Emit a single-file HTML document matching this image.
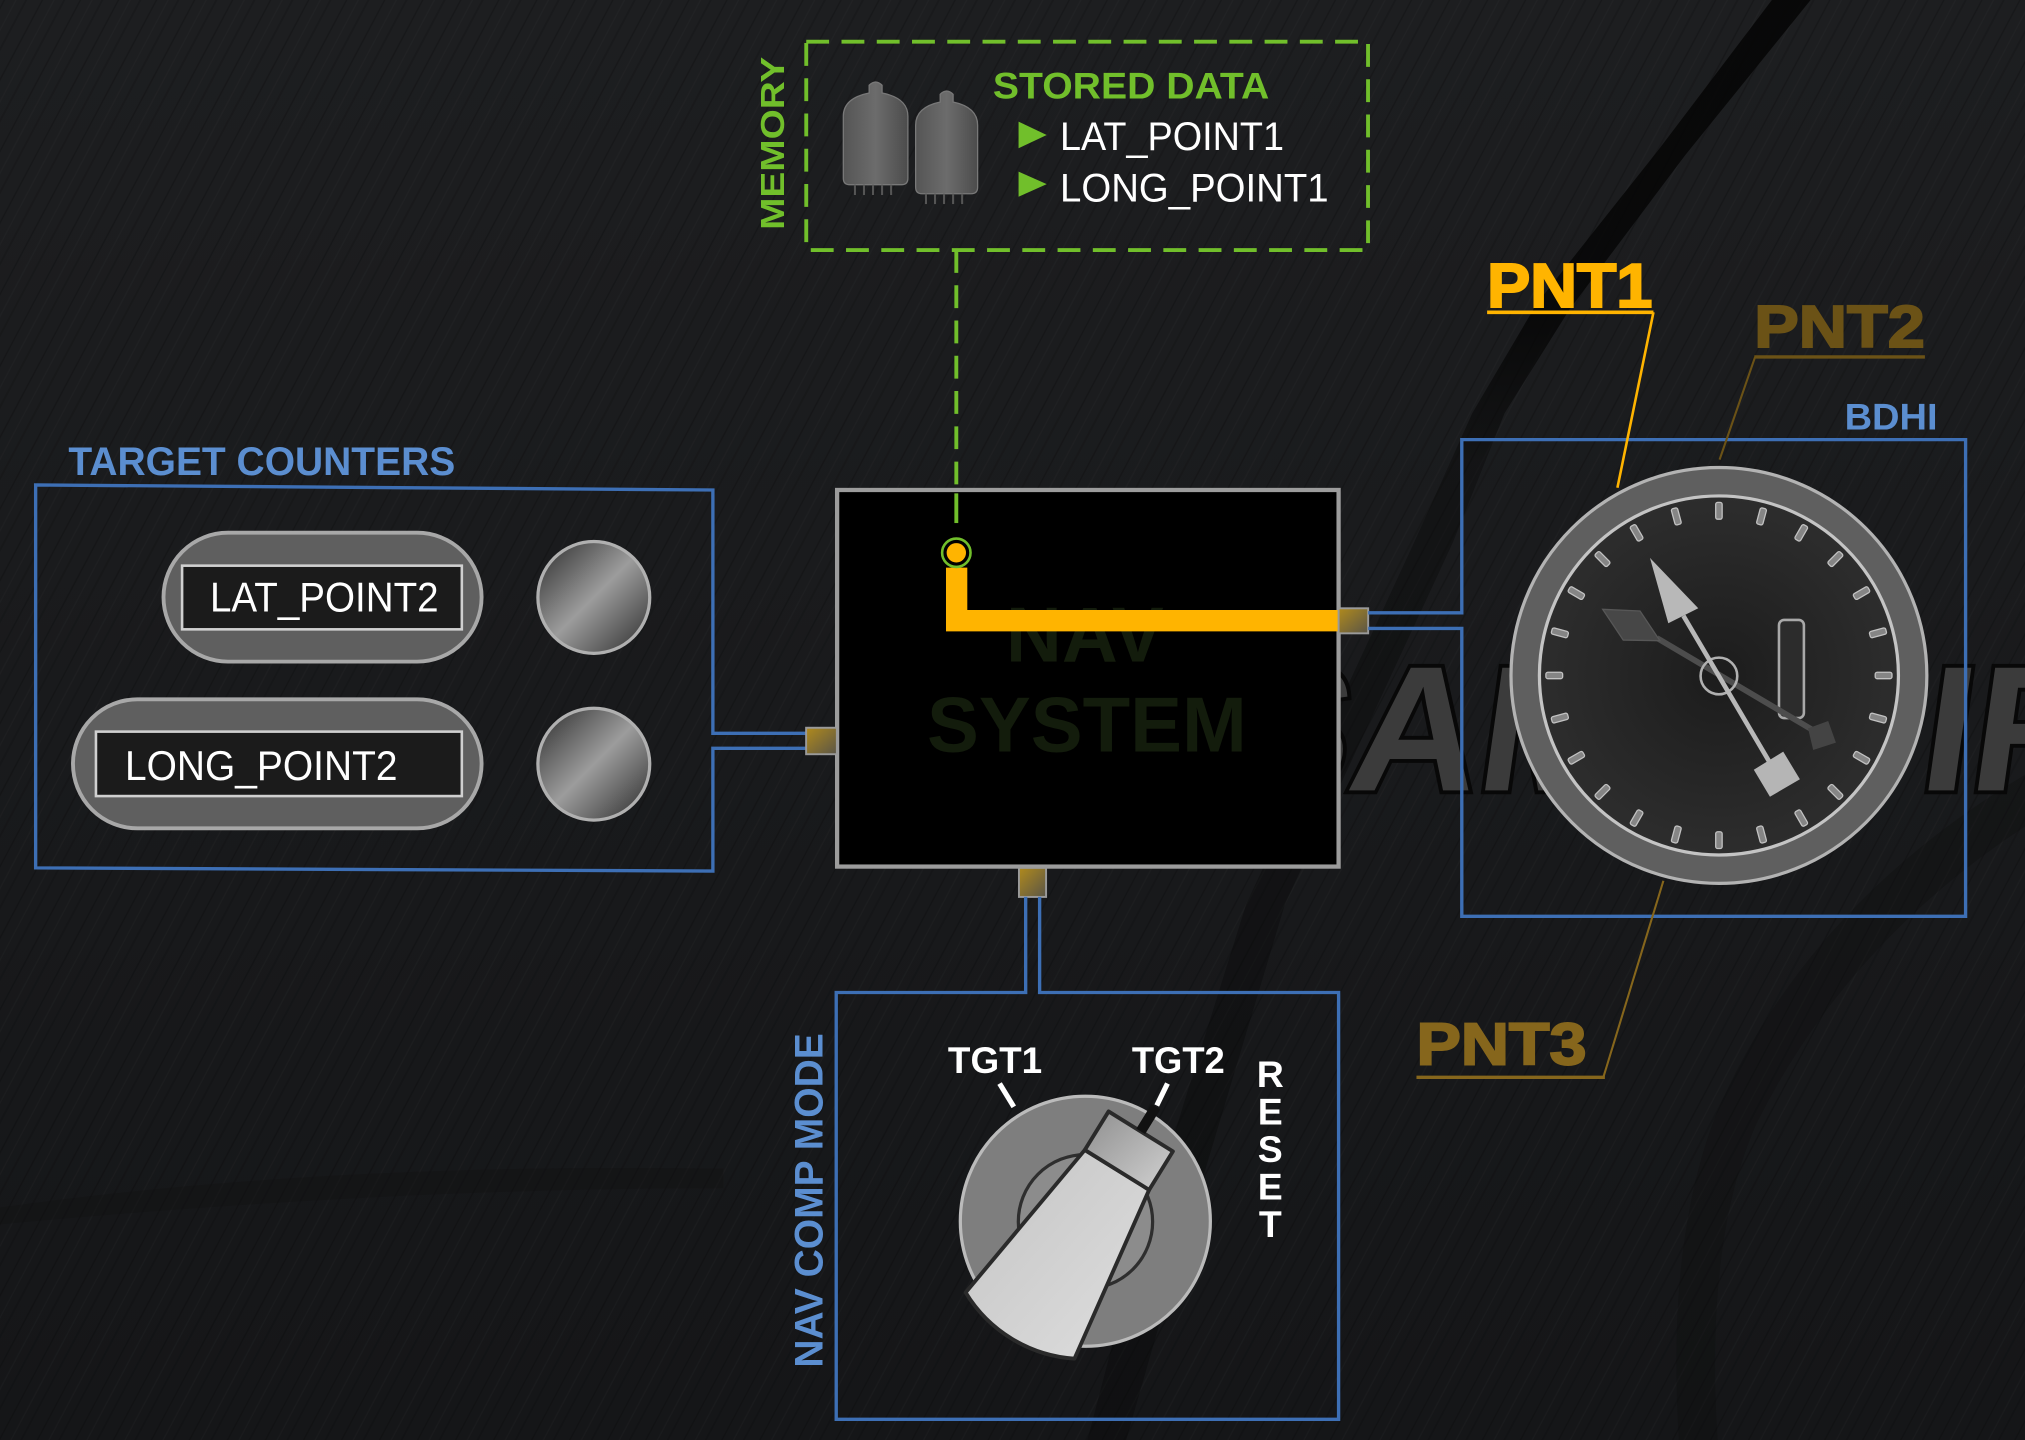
<!DOCTYPE html>
<html>
<head>
<meta charset="utf-8">
<style>
html,body{margin:0;padding:0;background:#1a1b1d;overflow:hidden;}
svg{display:block;}
</style>
</head>
<body>
<svg width="2025" height="1440" viewBox="0 0 1568 1115" preserveAspectRatio="none" xmlns="http://www.w3.org/2000/svg" font-family="'Liberation Sans', sans-serif">
<defs>
  <linearGradient id="bg" x1="0" y1="0" x2="0" y2="1">
    <stop offset="0" stop-color="#1d1e20"/>
    <stop offset="1" stop-color="#151618"/>
  </linearGradient>
  <pattern id="tex" width="26" height="26" patternUnits="userSpaceOnUse" patternTransform="rotate(-62)">
    <line x1="0" y1="3" x2="26" y2="3" stroke="#000" stroke-opacity="0.2" stroke-width="1"/>
    <line x1="0" y1="11" x2="26" y2="11" stroke="#fff" stroke-opacity="0.02" stroke-width="1"/>
    <line x1="0" y1="18" x2="26" y2="18" stroke="#000" stroke-opacity="0.12" stroke-width="1.5"/>
  </pattern>
  <linearGradient id="band" x1="0" y1="0" x2="0" y2="1">
    <stop offset="0" stop-color="#060606" stop-opacity="0.9"/>
    <stop offset="0.22" stop-color="#060606" stop-opacity="0.85"/>
    <stop offset="0.32" stop-color="#060606" stop-opacity="0.35"/>
    <stop offset="1" stop-color="#060606" stop-opacity="0.35"/>
  </linearGradient>
  <linearGradient id="port" x1="0" y1="0" x2="1" y2="1">
    <stop offset="0" stop-color="#b08a1c"/>
    <stop offset="1" stop-color="#5a5547"/>
  </linearGradient>
  <linearGradient id="btn" x1="0" y1="0" x2="1" y2="1">
    <stop offset="0" stop-color="#2b2b2b"/>
    <stop offset="0.5" stop-color="#9c9c9c"/>
    <stop offset="1" stop-color="#2b2b2b"/>
  </linearGradient>
  <linearGradient id="tube" x1="0" y1="0" x2="1" y2="0">
    <stop offset="0" stop-color="#555"/>
    <stop offset="0.5" stop-color="#6c6c6c"/>
    <stop offset="1" stop-color="#4c4c4c"/>
  </linearGradient>
  <radialGradient id="face" cx="0.5" cy="0.5" r="0.5">
    <stop offset="0" stop-color="#1c1c1c"/>
    <stop offset="1" stop-color="#2d2d2d"/>
  </radialGradient>
  <linearGradient id="handle" x1="0" y1="0" x2="1" y2="1">
    <stop offset="0" stop-color="#c4c4c4"/>
    <stop offset="1" stop-color="#dedede"/>
  </linearGradient>
  <linearGradient id="cap" x1="0" y1="0" x2="1" y2="1">
    <stop offset="0" stop-color="#8e8e8e"/>
    <stop offset="1" stop-color="#d2d2d2"/>
  </linearGradient>
</defs>

<!-- background -->
<rect x="0" y="0" width="1568" height="1115" fill="url(#bg)"/>
<rect x="0" y="0" width="1568" height="1115" fill="url(#tex)"/>
<!-- dark diagonal band -->
<path d="M1372,0 L1402,0 L1305,120 L1215,240 L1165,320 L1125,420 L1060,560 L995,700 L950,850 L905,1000 L872,1115 L842,1115 L872,1000 L918,850 L965,700 L1030,560 L1095,420 L1140,320 L1190,235 L1285,115 Z" fill="url(#band)"/>
<path d="M1568,600 Q1400,700 1330,860 Q1290,960 1300,1115 L1330,1115 Q1320,960 1360,870 Q1430,730 1568,640 Z" fill="#0c0c0d" opacity="0.3"/>
<path d="M0,935 Q250,900 560,905 L560,920 Q300,920 0,948 Z" fill="#0f1011" opacity="0.3"/>

<!-- watermark -->
<g font-size="138" font-weight="bold" fill="#3b3b3b" stroke="#080808" stroke-width="6" paint-order="stroke">
  <text x="955" y="612" transform="skewX(-8) translate(80,0)">SAM</text>
  <text x="1490" y="612" transform="skewX(-8) translate(80,0)">IR</text>
</g>

<!-- MEMORY -->
<rect x="624.3" y="32.3" width="435" height="161.3" fill="none" stroke="#71bf2b" stroke-width="3" stroke-dasharray="17.7 9.6"/>
<text transform="translate(607,111) rotate(-90)" text-anchor="middle" font-size="26" font-weight="bold" fill="#71bf2b" textLength="134" lengthAdjust="spacingAndGlyphs">MEMORY</text>
<!-- tubes -->
<g>
  <path d="M673,72 L673,66 Q678,61 683,66 L683,72 Q703,76 703,90 L703,138 Q703,143 698,143 L658,143 Q653,143 653,138 L653,90 Q653,76 673,72 Z" fill="url(#tube)" stroke="#787878" stroke-width="1"/>
  <g stroke="#555" stroke-width="1.6"><line x1="662" y1="143" x2="662" y2="151"/><line x1="669" y1="143" x2="669" y2="151"/><line x1="676" y1="143" x2="676" y2="151"/><line x1="683" y1="143" x2="683" y2="151"/><line x1="690" y1="143" x2="690" y2="151"/></g>
</g>
<g transform="translate(55,7)">
  <path d="M673,72 L673,66 Q678,61 683,66 L683,72 Q702,76 702,90 L702,138 Q702,143 697,143 L659,143 Q654,143 654,138 L654,90 Q654,76 673,72 Z" fill="url(#tube)" stroke="#787878" stroke-width="1"/>
  <g stroke="#555" stroke-width="1.6"><line x1="662" y1="143" x2="662" y2="151"/><line x1="669" y1="143" x2="669" y2="151"/><line x1="676" y1="143" x2="676" y2="151"/><line x1="683" y1="143" x2="683" y2="151"/><line x1="690" y1="143" x2="690" y2="151"/></g>
</g>
<text x="768.8" y="76.1" font-size="28.8" font-weight="bold" fill="#71bf2b" textLength="214" lengthAdjust="spacingAndGlyphs">STORED DATA</text>
<polygon points="788.7,94.2 810.5,104.5 788.7,114.8" fill="#71bf2b"/>
<polygon points="788.7,132.9 810.5,142.6 788.7,152.3" fill="#71bf2b"/>
<text x="820.8" y="116.1" font-size="30.5" fill="#ffffff" textLength="173.4" lengthAdjust="spacingAndGlyphs">LAT_POINT1</text>
<text x="820.8" y="156" font-size="30.5" fill="#ffffff" textLength="208" lengthAdjust="spacingAndGlyphs">LONG_POINT1</text>

<!-- memory connector -->
<line x1="740.5" y1="193.6" x2="740.5" y2="417" stroke="#71bf2b" stroke-width="3" stroke-dasharray="17.7 9.6"/>

<!-- TARGET COUNTERS -->
<text x="53" y="367.8" font-size="30.6" font-weight="bold" fill="#5b8ed0" textLength="299.5" lengthAdjust="spacingAndGlyphs">TARGET COUNTERS</text>
<path d="M624,567.8 L552,567.8 L552,379.4 L27.6,375.5 L27.6,672 L552,674.5 L552,579.4 L624,579.4" fill="none" stroke="#3d6fb5" stroke-width="2.6"/>
<rect x="126.6" y="412.5" width="246.3" height="99.8" rx="49.9" fill="#5f5f5f" stroke="#a8a8a8" stroke-width="3"/>
<rect x="141" y="438" width="216.6" height="49.3" fill="#1b1b1b" stroke="#d0d0d0" stroke-width="2"/>
<text x="162.6" y="473.6" font-size="32" fill="#ffffff" textLength="177" lengthAdjust="spacingAndGlyphs">LAT_POINT2</text>
<rect x="56.5" y="541.5" width="316.4" height="99.9" rx="49.9" fill="#5f5f5f" stroke="#a8a8a8" stroke-width="3"/>
<rect x="74.3" y="566.5" width="283.3" height="49.9" fill="#1b1b1b" stroke="#d0d0d0" stroke-width="2"/>
<text x="96.8" y="604" font-size="32" fill="#ffffff" textLength="211" lengthAdjust="spacingAndGlyphs">LONG_POINT2</text>
<circle cx="459.8" cy="462.6" r="43.3" fill="url(#btn)" stroke="#b0b0b0" stroke-width="2.5"/>
<circle cx="459.8" cy="591.7" r="43.3" fill="url(#btn)" stroke="#b0b0b0" stroke-width="2.5"/>

<!-- NAV SYSTEM -->
<rect x="648.2" y="379.4" width="388.3" height="291.6" fill="#000" stroke="#9c9c9c" stroke-width="3.3"/>
<text x="840" y="512.3" font-size="60" font-weight="bold" fill="#131c0c" text-anchor="middle">NAV</text>
<text x="841.6" y="582" font-size="60" font-weight="bold" fill="#131c0c" text-anchor="middle" textLength="247.6" lengthAdjust="spacingAndGlyphs">SYSTEM</text>
<line x1="740.5" y1="382" x2="740.5" y2="405" stroke="#71bf2b" stroke-width="3"/>
<path d="M740.75,439.5 L740.75,480.6 L1036.5,480.6" fill="none" stroke="#ffb400" stroke-width="16.5" stroke-linejoin="miter"/>
<circle cx="740.5" cy="428" r="11" fill="#000" stroke="#71bf2b" stroke-width="2"/>
<circle cx="740.5" cy="428" r="7.5" fill="#ffb400"/>
<!-- ports -->
<rect x="1036.5" y="471" width="22.9" height="19.4" fill="url(#port)" stroke="#9a9a9a" stroke-width="1.5"/>
<rect x="624.2" y="563.5" width="23.8" height="20.5" fill="url(#port)" stroke="#9a9a9a" stroke-width="1.5"/>
<rect x="789" y="672" width="21" height="22.5" fill="url(#port)" stroke="#9a9a9a" stroke-width="1.5"/>

<!-- BDHI -->
<path d="M1059.4,474.5 L1131.9,474.5 L1131.9,340.4 L1522,340.4 L1522,709.5 L1131.9,709.5 L1131.9,486.6 L1059.4,486.6" fill="none" stroke="#3d6fb5" stroke-width="2.6"/>
<text x="1428.3" y="332.7" font-size="29" font-weight="bold" fill="#5b8ed0" textLength="72" lengthAdjust="spacingAndGlyphs">BDHI</text>
<circle cx="1331" cy="523" r="161" fill="#5f5f5f" stroke="#b3b3b3" stroke-width="2.5"/>
<circle cx="1331" cy="523" r="139" fill="url(#face)" stroke="#c4c4c4" stroke-width="2.5"/>
<g fill="#858585" stroke="#c2c2c2" stroke-width="1">
  <rect x="1328.5" y="389" width="5" height="13" rx="1.5"/>
  <rect x="1328.5" y="389" width="5" height="13" rx="1.5" transform="rotate(15 1331 523)"/>
  <rect x="1328.5" y="389" width="5" height="13" rx="1.5" transform="rotate(30 1331 523)"/>
  <rect x="1328.5" y="389" width="5" height="13" rx="1.5" transform="rotate(45 1331 523)"/>
  <rect x="1328.5" y="389" width="5" height="13" rx="1.5" transform="rotate(60 1331 523)"/>
  <rect x="1328.5" y="389" width="5" height="13" rx="1.5" transform="rotate(75 1331 523)"/>
  <rect x="1328.5" y="389" width="5" height="13" rx="1.5" transform="rotate(90 1331 523)"/>
  <rect x="1328.5" y="389" width="5" height="13" rx="1.5" transform="rotate(105 1331 523)"/>
  <rect x="1328.5" y="389" width="5" height="13" rx="1.5" transform="rotate(120 1331 523)"/>
  <rect x="1328.5" y="389" width="5" height="13" rx="1.5" transform="rotate(135 1331 523)"/>
  <rect x="1328.5" y="389" width="5" height="13" rx="1.5" transform="rotate(150 1331 523)"/>
  <rect x="1328.5" y="389" width="5" height="13" rx="1.5" transform="rotate(165 1331 523)"/>
  <rect x="1328.5" y="389" width="5" height="13" rx="1.5" transform="rotate(180 1331 523)"/>
  <rect x="1328.5" y="389" width="5" height="13" rx="1.5" transform="rotate(195 1331 523)"/>
  <rect x="1328.5" y="389" width="5" height="13" rx="1.5" transform="rotate(210 1331 523)"/>
  <rect x="1328.5" y="389" width="5" height="13" rx="1.5" transform="rotate(225 1331 523)"/>
  <rect x="1328.5" y="389" width="5" height="13" rx="1.5" transform="rotate(240 1331 523)"/>
  <rect x="1328.5" y="389" width="5" height="13" rx="1.5" transform="rotate(255 1331 523)"/>
  <rect x="1328.5" y="389" width="5" height="13" rx="1.5" transform="rotate(270 1331 523)"/>
  <rect x="1328.5" y="389" width="5" height="13" rx="1.5" transform="rotate(285 1331 523)"/>
  <rect x="1328.5" y="389" width="5" height="13" rx="1.5" transform="rotate(300 1331 523)"/>
  <rect x="1328.5" y="389" width="5" height="13" rx="1.5" transform="rotate(315 1331 523)"/>
  <rect x="1328.5" y="389" width="5" height="13" rx="1.5" transform="rotate(330 1331 523)"/>
  <rect x="1328.5" y="389" width="5" height="13" rx="1.5" transform="rotate(345 1331 523)"/>
</g>
<rect x="1377.5" y="480" width="19.3" height="76" rx="4" fill="#2c2c2c" stroke="#a8a8a8" stroke-width="2"/>
<line x1="1283" y1="494" x2="1410" y2="569" stroke="#4d4d4d" stroke-width="4.5"/>
<polygon points="1241,471.8 1269.9,473.1 1285.3,496.1 1256.9,495.6" fill="#474747" stroke="#575757" stroke-width="1"/>
<polygon points="1400,564 1415.6,558.3 1421.6,575 1404,580.7" fill="#444"/>
<circle cx="1331" cy="523.4" r="14.2" fill="none" stroke="#b0b0b0" stroke-width="2"/>
<line x1="1303.5" y1="476.8" x2="1376" y2="600" stroke="#b8b8b8" stroke-width="3.6"/>
<polygon points="1277.6,432 1315,471 1291.8,482.6" fill="#b8b8b8"/>
<polygon points="1358,596 1380.8,582 1393.7,603.4 1370.5,616.9" fill="#b5b5b5"/>

<!-- PNT labels -->
<text x="1151.5" y="237.7" font-size="48" font-weight="bold" fill="#ffb400" stroke="#ffb400" stroke-width="1.6" textLength="128" lengthAdjust="spacingAndGlyphs">PNT1</text>
<line x1="1151.5" y1="241.8" x2="1280.3" y2="241.8" stroke="#ffb400" stroke-width="2.8"/>
<line x1="1280.3" y1="241.8" x2="1252.4" y2="377.7" stroke="#ffb400" stroke-width="2"/>
<text x="1358.4" y="268.8" font-size="46" font-weight="bold" fill="#6b5216" stroke="#6b5216" stroke-width="1.5" textLength="132" lengthAdjust="spacingAndGlyphs">PNT2</text>
<line x1="1358.4" y1="276.4" x2="1490.5" y2="276.4" stroke="#6b5216" stroke-width="2.6"/>
<line x1="1359" y1="276.4" x2="1331.5" y2="355.9" stroke="#6b5216" stroke-width="1.6"/>
<text x="1096.8" y="824.3" font-size="46" font-weight="bold" fill="#86661c" stroke="#86661c" stroke-width="1.5" textLength="131.7" lengthAdjust="spacingAndGlyphs">PNT3</text>
<line x1="1096.8" y1="834.2" x2="1242.7" y2="834.2" stroke="#86661c" stroke-width="2.6"/>
<line x1="1241.5" y1="834.2" x2="1288" y2="682" stroke="#86661c" stroke-width="1.6"/>

<!-- NAV COMP MODE -->
<path d="M794.2,694.5 L794.2,768.5 L647.5,768.5 L647.5,1099 L1036.5,1099 L1036.5,768.5 L805,768.5 L805,694.5" fill="none" stroke="#3d6fb5" stroke-width="2.6"/>
<text transform="translate(637,929.5) rotate(-90)" text-anchor="middle" font-size="30.5" font-weight="bold" fill="#5b8ed0" textLength="259" lengthAdjust="spacingAndGlyphs">NAV COMP MODE</text>
<text x="734" y="830.7" font-size="29" font-weight="bold" fill="#ffffff" textLength="73" lengthAdjust="spacingAndGlyphs">TGT1</text>
<text x="876.4" y="830.7" font-size="29" font-weight="bold" fill="#ffffff" textLength="72" lengthAdjust="spacingAndGlyphs">TGT2</text>
<g font-size="29" font-weight="bold" fill="#ffffff" text-anchor="middle">
  <text x="983.6" y="841.7">R</text>
  <text x="983.6" y="870.7">E</text>
  <text x="983.6" y="899.7">S</text>
  <text x="983.6" y="928.7">E</text>
  <text x="983.6" y="957.7">T</text>
</g>
<line x1="774" y1="839" x2="785" y2="857" stroke="#ffffff" stroke-width="4"/>
<line x1="904" y1="839" x2="895.7" y2="856" stroke="#ffffff" stroke-width="4"/>
<!-- knob -->
<circle cx="840.4" cy="945.6" r="96.8" fill="#7e7e7e" stroke="#bbbbbb" stroke-width="2.5"/>
<circle cx="840.5" cy="946" r="52" fill="#8c8c8c" stroke="#2e2e2e" stroke-width="2.5"/>
<path d="M840,890.4 L747.7,1000.8 A107,107 0 0 0 832,1052 L889.8,921.3 Z" fill="url(#handle)" stroke="#2a2a2a" stroke-width="3" stroke-linejoin="round"/>
<path d="M858.4,860.6 L908.2,891.5 L889.8,921.3 L840,890.4 Z" fill="url(#cap)" stroke="#2a2a2a" stroke-width="3" stroke-linejoin="round"/>
<line x1="883.3" y1="876" x2="895" y2="857" stroke="#111" stroke-width="8"/>
</svg>
</body>
</html>
